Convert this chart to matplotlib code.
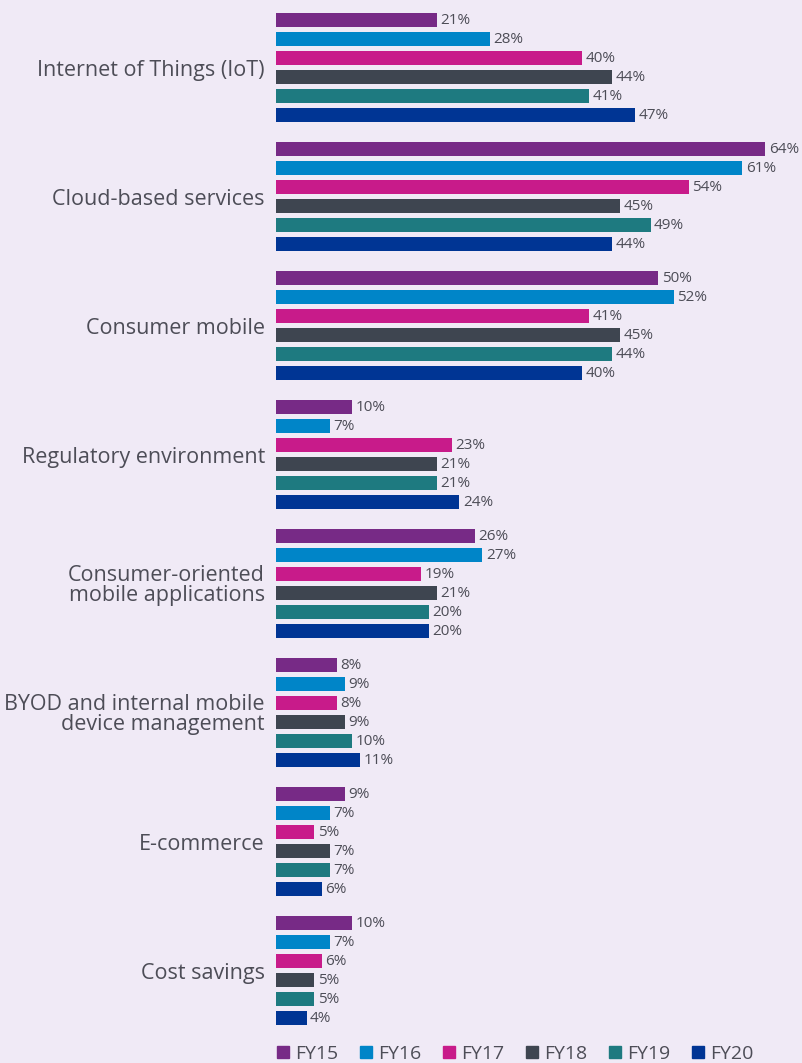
import numpy as np
import matplotlib.pyplot as plt
from matplotlib.lines import Line2D

categories = [
    "Internet of Things (IoT)",
    "Cloud-based services",
    "Consumer mobile",
    "Regulatory environment",
    "Consumer-oriented\nmobile applications",
    "BYOD and internal mobile\ndevice management",
    "E-commerce",
    "Cost savings",
]
years = ["FY15", "FY16", "FY17", "FY18", "FY19", "FY20"]

fy15 = [21, 64, 50, 10, 26, 8, 9, 10]
fy16 = [28, 61, 52, 7, 27, 9, 7, 7]
fy17 = [40, 54, 41, 23, 19, 8, 5, 6]
fy18 = [44, 45, 45, 21, 21, 9, 7, 5]
fy19 = [41, 49, 44, 21, 20, 10, 7, 5]
fy20 = [47, 44, 40, 24, 20, 11, 6, 4]
series = [fy15, fy16, fy17, fy18, fy19, fy20]

colors = ["#772a86", "#0085c8", "#c81b8a", "#3e4550", "#1e7a80", "#003594"]
bg = "#f0eaf6"
txt = "#4d4d57"

plt.rcParams["font.family"] = ["Open Sans", "DejaVu Sans"]

fig = plt.figure(figsize=(8.02, 10.63), dpi=100, facecolor=bg)
ax = fig.add_axes([276 / 802, 1 - 1027 / 1063, 526 / 802, 1017 / 1063])
ax.set_facecolor(bg)

group_step = 6.79
bar_h = 0.74
for i, (vals, col) in enumerate(zip(series, colors)):
    ypos = np.arange(len(categories)) * group_step + i
    ax.barh(ypos, vals, height=bar_h, color=col)
    for y, v in zip(ypos, vals):
        ax.text(v + 0.45, y, f"{v}%", va="center", ha="left",
                fontsize=11, color=txt)

centers = np.arange(len(categories)) * group_step + 2.5
ax.set_yticks(centers)
ax.set_yticklabels(categories, fontsize=15.5, color=txt, ha="right",
                   linespacing=0.95)
ax.tick_params(axis="y", length=0, pad=8)
ax.set_xticks([])
ax.set_xlim(0, 68.8)
ax.set_ylim(53.0, -0.53)
for s in ax.spines.values():
    s.set_visible(False)

handles = [Line2D([], [], marker="s", linestyle="none", markersize=9,
                  color=c) for c in colors]
fig.legend(handles, years, loc="center left", ncol=6,
           bbox_to_anchor=(260 / 802, 1 - 1054 / 1063),
           frameon=False, fontsize=14, labelcolor=txt,
           handletextpad=0.1, columnspacing=0.95, handlelength=1.0,
           borderpad=0.2)

fig.savefig("out.png", dpi=100, facecolor=bg)
